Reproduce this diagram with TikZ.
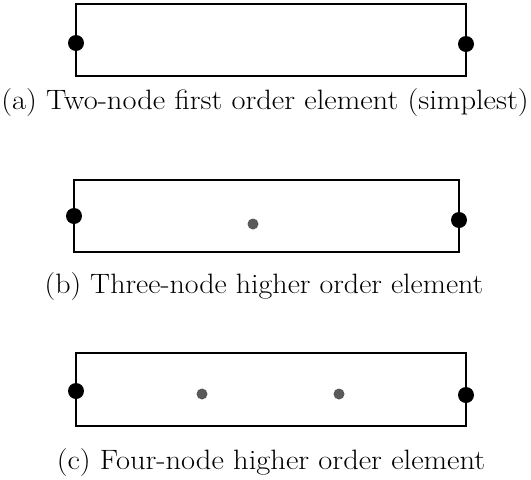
\documentclass[tikz,border=0pt]{standalone}
\begin{document}
\begin{tikzpicture}[x=1pt,y=-1pt,
  elem/.style={draw=black,line width=2pt},
  endnode/.style={circle,fill=black,inner sep=0pt,minimum size=16pt},
  midnode/.style={circle,fill=black!65,inner sep=0pt,minimum size=11pt},
  captext/.style={font=\fontsize{28}{32}\selectfont,inner sep=0pt}]
\useasboundingbox (0,0) rectangle (531,480);
% (a)
\draw[elem] (76,4) rectangle (466,76);
\node[endnode] (a1) at (76,43) {};
\node[endnode] (a2) at (466,44) {};
\node[captext] (ca) at (265,103) {\scalebox{1.09}[1]{(a) Two-node first order element (simplest)}};
% (b)
\draw[elem] (74,180) rectangle (459,252);
\node[endnode] (b1) at (74,216) {};
\node[midnode] (b2) at (253,224) {};
\node[endnode] (b3) at (459,220) {};
\node[captext] (cb) at (264,287) {\scalebox{1.07}[1]{(b) Three-node higher order element}};
% (c)
\draw[elem] (76,353) rectangle (466,426);
\node[endnode] (c1) at (76,391) {};
\node[midnode] (c2) at (202,394) {};
\node[midnode] (c3) at (339,394) {};
\node[endnode] (c4) at (466,395) {};
\node[captext] (cc) at (271,463) {\scalebox{1.09}[1]{(c) Four-node higher order element}};
\end{tikzpicture}
\end{document}
